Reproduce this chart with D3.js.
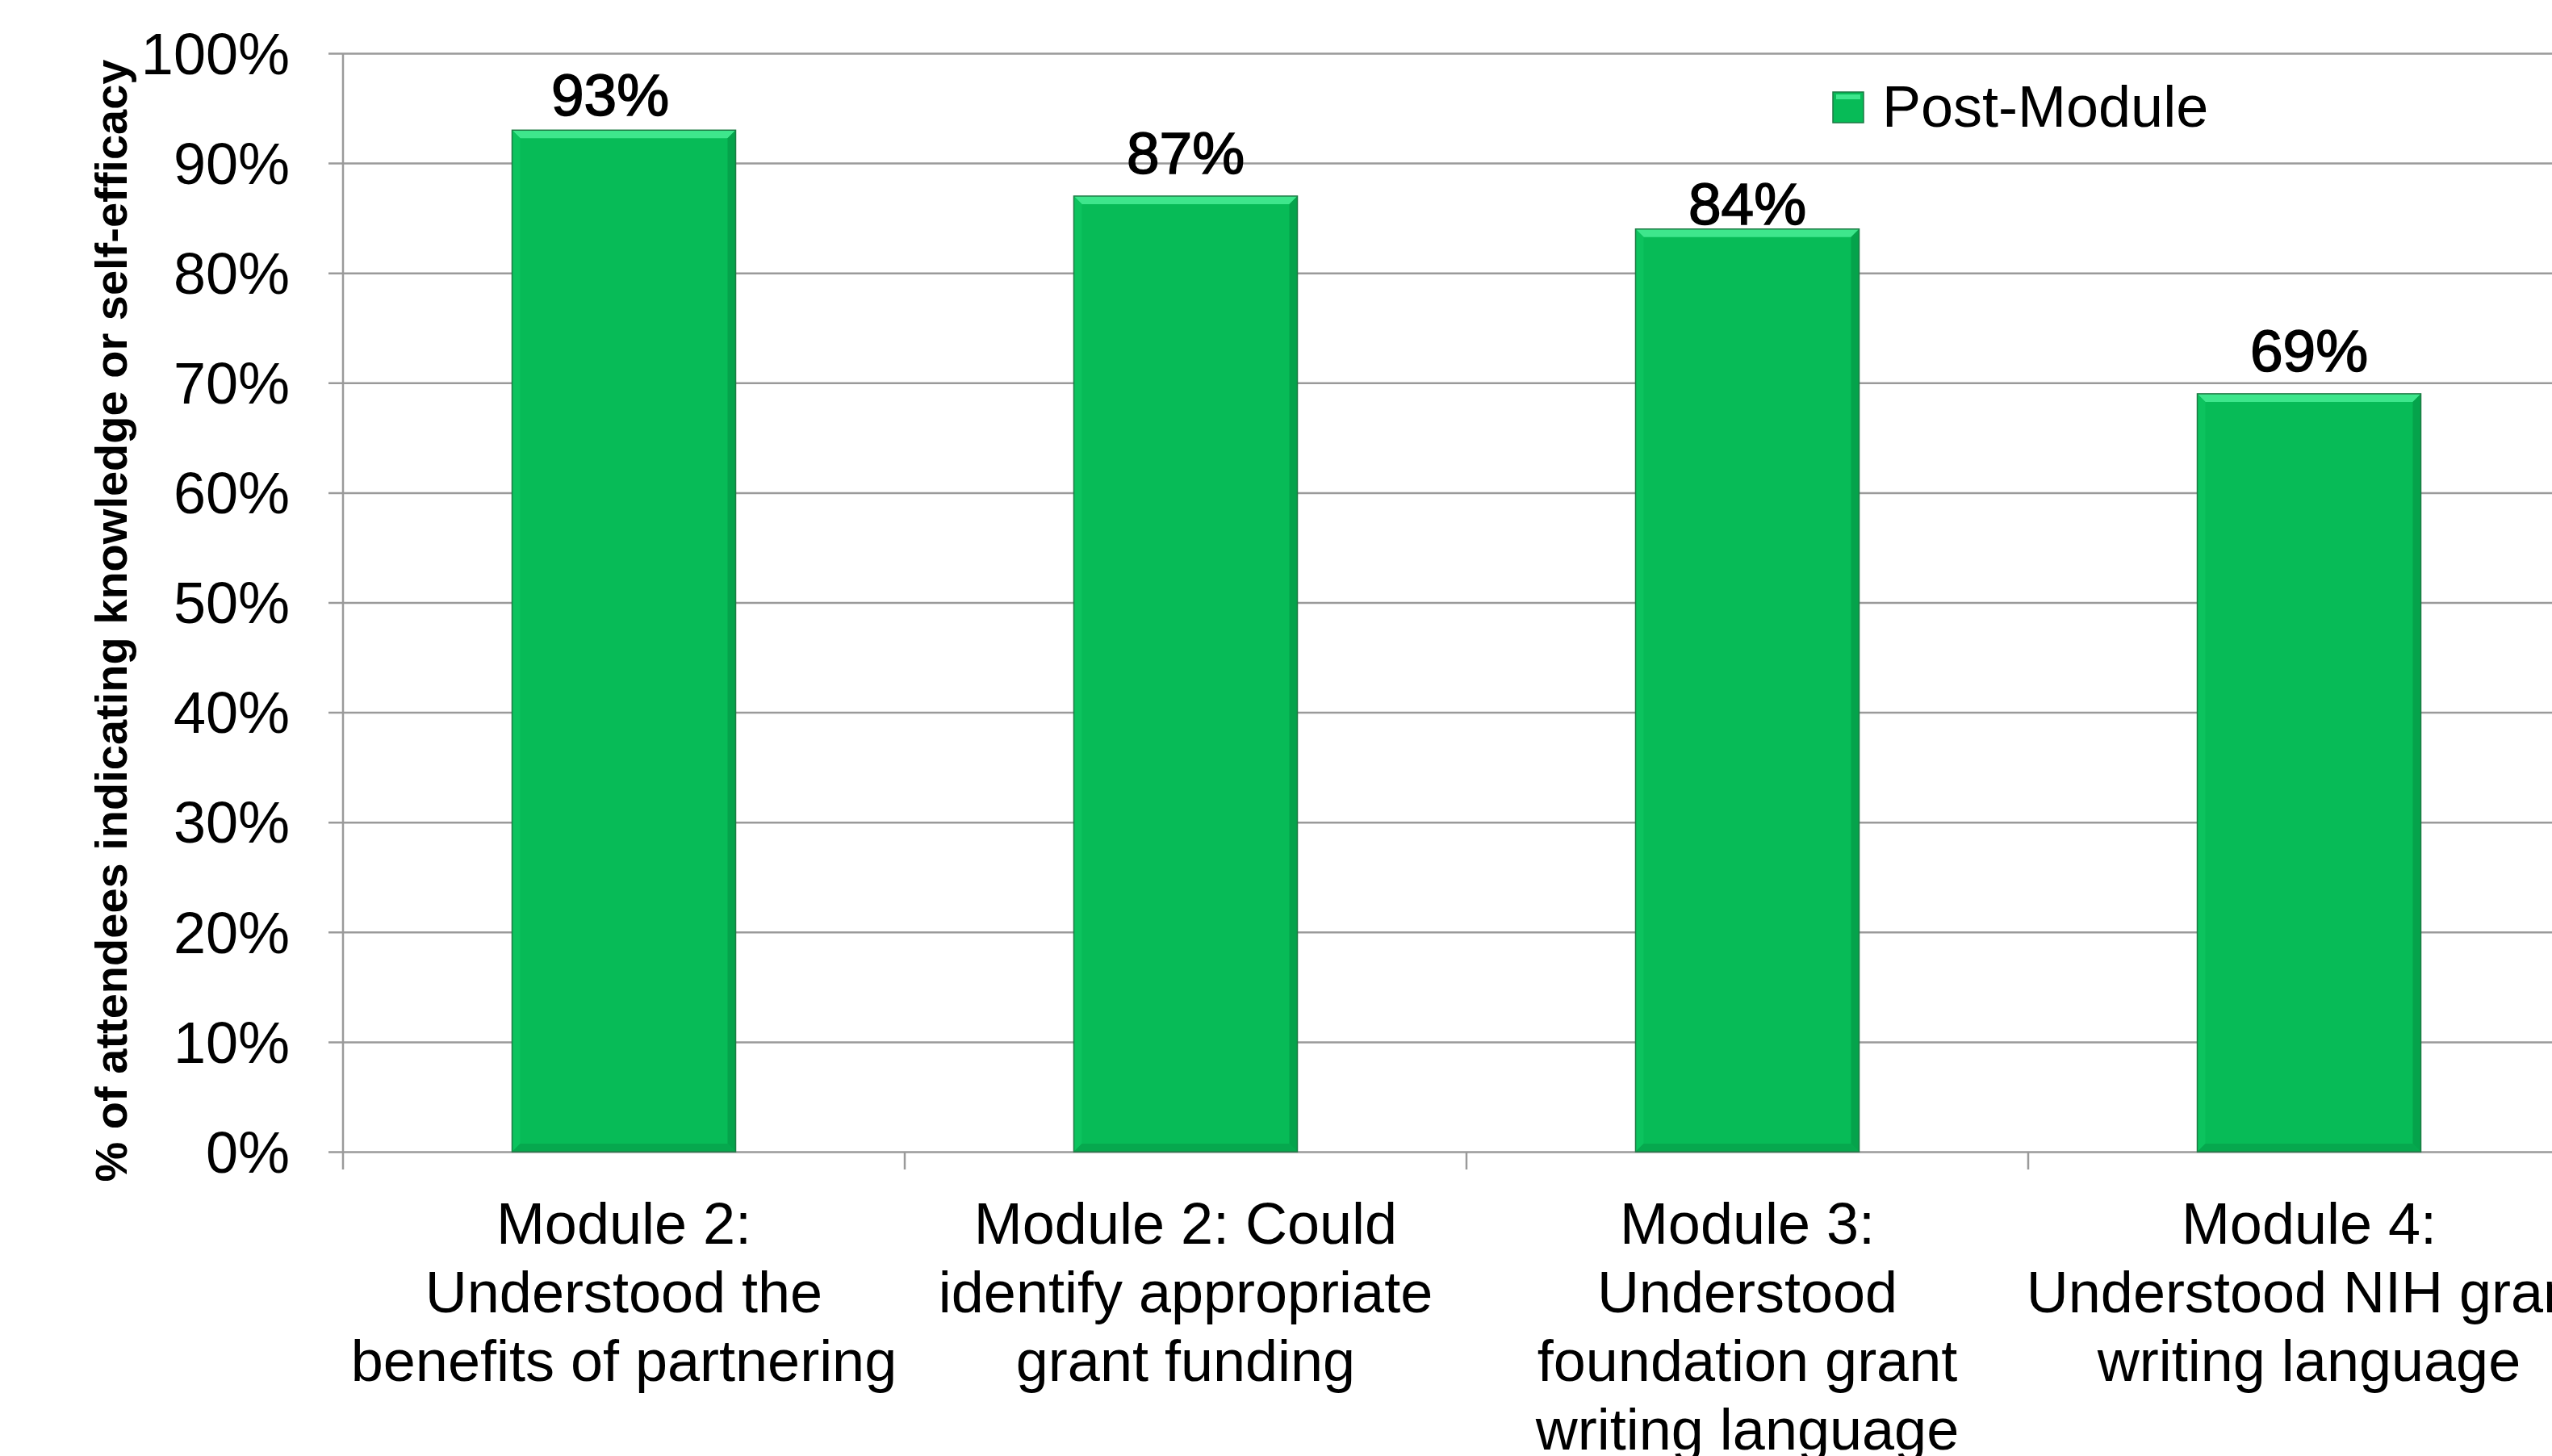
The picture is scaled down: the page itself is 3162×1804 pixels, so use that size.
<!DOCTYPE html>
<html>
<head>
<meta charset="utf-8">
<script src="https://cdn.jsdelivr.net/npm/d3@7"></script>
<style>
  html, body { margin: 0; padding: 0; background: #ffffff; }
  svg { display: block; }
  text { font-family: "Liberation Sans", Arial, sans-serif; fill: #000; }
</style>
</head>
<body>
<div id="chart"></div>
<script>
// ---- data ----
const categories = [
  "Module 2: Understood the benefits of partnering",
  "Module 2: Could identify appropriate grant funding",
  "Module 3: Understood foundation grant writing language",
  "Module 4: Understood NIH grant writing language"
];
const categoryLines = [
  ["Module 2:", "Understood the", "benefits of partnering"],
  ["Module 2: Could", "identify appropriate", "grant funding"],
  ["Module 3:", "Understood", "foundation grant", "writing language"],
  ["Module 4:", "Understood NIH grant", "writing language"]
];
const postModule = [93, 87, 84, 69];
const seriesName = "Post-Module";
const yTickValues = [0, 10, 20, 30, 40, 50, 60, 70, 80, 90, 100];
const yTitle = "% of attendees indicating knowledge or self-efficacy";

// ---- layout ----
const W = 3162, H = 1804;
const plotLeft = 425, plotRight = 3209, plotTop = 66, plotBottom = 1427;
// manual nudges of the data labels, as placed in the original chart
const labelNudge = [[-17, 0], [0, -10], [0, 12], [0, -10]];

const svg = d3.select("#chart").append("svg")
  .attr("width", W).attr("height", H)
  .attr("viewBox", `0 0 ${W} ${H}`);

const x = d3.scaleBand().domain(categories).range([plotLeft, plotRight]).padding(0);
const y = d3.scaleLinear().domain([0, 100]).range([plotBottom, plotTop]);

const gridColor = "#9a9a9a";

// gridlines + y ticks
const yAxis = d3.axisLeft(y)
  .tickValues(yTickValues)
  .tickSize(-(plotRight - plotLeft))
  .tickFormat(d => d + "%");
const gy = svg.append("g").attr("transform", `translate(${plotLeft},0)`).call(yAxis);
gy.select(".domain").remove();
gy.selectAll(".tick line")
  .attr("x1", -18)
  .attr("stroke", gridColor).attr("stroke-width", 2.5);
gy.selectAll(".tick text")
  .attr("x", -66).attr("dy", "0.35em")
  .attr("font-size", 72)
  .attr("font-family", '"Liberation Sans", Arial, sans-serif')
  .attr("fill", "#000");

// vertical axis line
svg.append("line")
  .attr("x1", plotLeft).attr("x2", plotLeft)
  .attr("y1", y(100)).attr("y2", y(0))
  .attr("stroke", gridColor).attr("stroke-width", 2.5);

// category boundary ticks
const boundaries = categories.map(c => x(c)).concat([plotRight]);
svg.append("g").selectAll("line").data(boundaries).join("line")
  .attr("x1", d => d).attr("x2", d => d)
  .attr("y1", y(0)).attr("y2", y(0) + 22)
  .attr("stroke", gridColor).attr("stroke-width", 2.5);

// bars with bevel
const barFrac = 0.398;
const bev = 10;
const bars = svg.append("g").selectAll("g").data(postModule).join("g");
bars.each(function(v, i) {
  const g = d3.select(this);
  const cx = x(categories[i]) + x.bandwidth() / 2;
  const bw = x.bandwidth() * barFrac;
  const x0 = cx - bw / 2, x1 = cx + bw / 2;
  const y0 = y(v), y1 = y(0);
  g.append("rect")
    .attr("x", x0).attr("y", y0).attr("width", bw).attr("height", y1 - y0)
    .attr("fill", "#07bb57");
  // top bevel (light)
  g.append("polygon")
    .attr("points", [[x0, y0], [x1, y0], [x1 - bev, y0 + bev], [x0 + bev, y0 + bev]].map(p => p.join(",")).join(" "))
    .attr("fill", "#3ee68c");
  // left bevel
  g.append("polygon")
    .attr("points", [[x0, y0], [x0 + bev, y0 + bev], [x0 + bev, y1 - bev], [x0, y1]].map(p => p.join(",")).join(" "))
    .attr("fill", "#0cc35e");
  // right bevel (dark)
  g.append("polygon")
    .attr("points", [[x1, y0], [x1, y1], [x1 - bev, y1 - bev], [x1 - bev, y0 + bev]].map(p => p.join(",")).join(" "))
    .attr("fill", "#05a34b");
  // bottom bevel
  g.append("polygon")
    .attr("points", [[x0, y1], [x1, y1], [x1 - bev, y1 - bev], [x0 + bev, y1 - bev]].map(p => p.join(",")).join(" "))
    .attr("fill", "#06a84e");
  // outline
  g.append("rect")
    .attr("x", x0).attr("y", y0).attr("width", bw).attr("height", y1 - y0)
    .attr("fill", "none").attr("stroke", "#1d7a44").attr("stroke-width", 1.5);
  // data label (medium weight)
  g.append("text")
    .attr("x", cx + labelNudge[i][0]).attr("y", y0 - 18 + labelNudge[i][1])
    .attr("text-anchor", "middle")
    .attr("font-size", 73)
    .attr("stroke", "#000").attr("stroke-width", 1.6)
    .text(v + "%");
});

// category labels
const labels = svg.append("g").selectAll("text").data(categories).join("text")
  .attr("text-anchor", "middle")
  .attr("font-size", 72);
labels.each(function(c, i) {
  const t = d3.select(this);
  const cx = x(c) + x.bandwidth() / 2;
  categoryLines[i].forEach((ln, j) => {
    t.append("tspan").attr("x", cx).attr("y", 1541 + j * 85).text(ln);
  });
});

// y axis title
svg.append("text")
  .attr("transform", `translate(157, ${769}) rotate(-90)`)
  .attr("text-anchor", "middle")
  .attr("font-size", 56).attr("font-weight", "bold")
  .text(yTitle);

// legend
const lg = svg.append("g").attr("transform", "translate(2271, 114)");
lg.append("rect").attr("x", 0).attr("y", 0).attr("width", 38).attr("height", 38)
  .attr("fill", "#07bb57").attr("stroke", "#1d7a44").attr("stroke-width", 1.5);
lg.append("rect").attr("x", 4).attr("y", 3).attr("width", 30).attr("height", 6).attr("fill", "#3ee68c");
lg.append("text").attr("x", 61).attr("y", 43).attr("font-size", 72).text(seriesName);
</script>
</body>
</html>
